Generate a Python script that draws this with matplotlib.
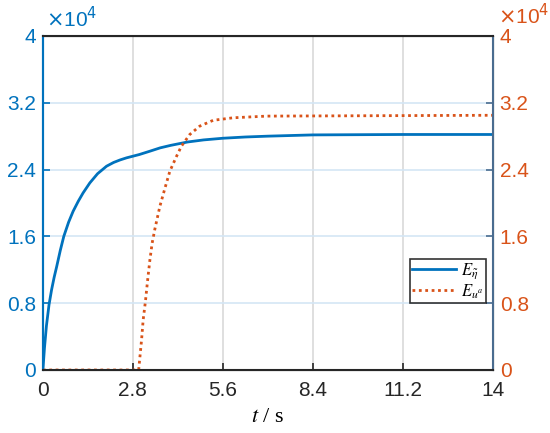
import numpy as np
import matplotlib
matplotlib.use('Agg')
from matplotlib import pyplot as plt

# data (values in units of 1e4)
t_eta = [0, 0.05, 0.11, 0.19, 0.27, 0.35, 0.43, 0.54, 0.65, 0.8, 0.94, 1.1,
         1.25, 1.46, 1.7, 1.98, 2.2, 2.4, 2.6, 2.8, 3.0, 3.33, 3.65, 3.98,
         4.5, 5.0, 5.6, 6.3, 7.0, 8.4, 11.2, 14]
E_eta = [0, 0.27, 0.53, 0.78, 0.96, 1.11, 1.24, 1.43, 1.6, 1.77, 1.9, 2.02,
         2.12, 2.24, 2.35, 2.44, 2.485, 2.515, 2.54, 2.56, 2.58, 2.62, 2.66,
         2.69, 2.73, 2.755, 2.775, 2.79, 2.80, 2.815, 2.82, 2.82]

t_ua = [0, 2.98, 3.02, 3.07, 3.12, 3.19, 3.26, 3.33, 3.40, 3.48, 3.64, 3.80,
        3.95, 4.16, 4.31, 4.57, 4.88, 5.30, 5.92, 6.96, 14]
E_ua = [0, 0, 0.16, 0.36, 0.6, 0.82, 1.08, 1.32, 1.52, 1.68, 1.96, 2.18,
        2.38, 2.56, 2.68, 2.82, 2.92, 2.99, 3.02, 3.04, 3.05]

xticks = [0, 2.8, 5.6, 8.4, 11.2, 14]
xlabels = ['0', '2.8', '5.6', '8.4', '11.2', '14']
yticks = [0, 0.8, 1.6, 2.4, 3.2, 4]
ylabels = ['0', '0.8', '1.6', '2.4', '3.2', '4']

blue = (0, 0.447, 0.741)
orange = (0.85, 0.325, 0.098)

plt.rcParams['font.family'] = ['Liberation Sans', 'DejaVu Sans']
plt.rcParams['mathtext.fontset'] = 'stix'

fig = plt.figure(figsize=(5.5, 4.33), dpi=100)
ax = fig.add_axes([0.078, 0.1455, 0.818, 0.7715])
ax2 = ax.twinx()

ax.plot(t_eta, E_eta, color=blue, lw=2, label=r'$E_{\tilde{\eta}}$')
ax2.plot(t_ua, E_ua, color=orange, lw=2, ls=(0, (1, 1.3)), label=r'$E_{u^a}$')

for a in (ax, ax2):
    a.set_xlim(0, 14)
    a.set_ylim(0, 4)
    a.set_yticks(yticks)
    a.set_yticklabels(ylabels)
    a.set_xticks(xticks)
    a.tick_params(direction='in', length=5, labelsize=15, width=1.2)

ax.set_xticklabels(xlabels)
ax.tick_params(axis='y', colors=blue, labelcolor=blue, pad=5)
ax.tick_params(axis='x', colors='#262626', labelcolor='#262626', pad=8)
ax2.tick_params(axis='y', colors='#4a6c8f', labelcolor=orange, pad=5)

# grid: vertical grey, horizontal light blue
for x in xticks[1:-1]:
    ax.axvline(x, color=(0.85, 0.85, 0.85), lw=1.2, zorder=0)
for y in yticks[1:-1]:
    ax.axhline(y, color=(0.83, 0.9, 0.96), lw=1.2, zorder=0)

ax.spines['left'].set_color(blue)
ax.spines['left'].set_linewidth(1.5)
ax2.spines['right'].set_color('#4a6c8f')
ax2.spines['right'].set_linewidth(1.5)
for s in ('top', 'bottom'):
    ax2.spines[s].set_color('#262626')
    ax2.spines[s].set_linewidth(1.5)
ax2.spines['left'].set_color(blue)
ax2.spines['left'].set_linewidth(1.5)

ax.set_xlabel(r'$t$ / s', fontsize=16, family='Liberation Serif')
ax.xaxis.set_label_coords(0.5, -0.115)

fig.text(0.083, 0.937, r'$\times$10$^4$', color=blue, fontsize=15,
         math_fontfamily='dejavusans')
fig.text(0.905, 0.945, r'$\times$10$^4$', color=orange, fontsize=15,
         math_fontfamily='dejavusans')

h1, l1 = ax.get_legend_handles_labels()
h2, l2 = ax2.get_legend_handles_labels()
leg = ax2.legend(h1 + h2, l1 + l2, loc='lower right',
                 bbox_to_anchor=(0.985, 0.2), fontsize=12, frameon=True,
                 fancybox=False, edgecolor='black', handlelength=2.6,
                 borderpad=0.15, labelspacing=0.05, handletextpad=0.3,
                 borderaxespad=0)
leg.get_frame().set_linewidth(1.2)

fig.savefig('out.png', dpi=100)
